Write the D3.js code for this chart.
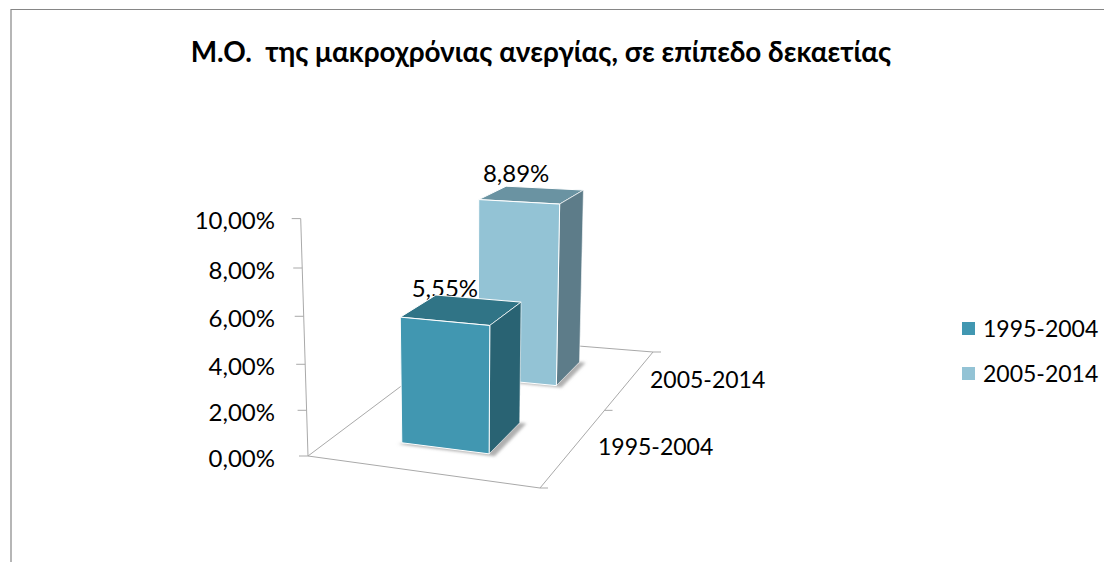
<!DOCTYPE html>
<html>
<head>
<meta charset="utf-8">
<script src="https://cdn.jsdelivr.net/npm/d3@7"></script>
<style>
  html, body { margin: 0; padding: 0; background: #fff; }
  svg { display: block; }
  text { font-family: "Lato", "Noto Sans", sans-serif; fill: #000; }
</style>
</head>
<body>
<script>
const width = 1104;
const height = 562;

const titleText = "Μ.Ο.  της μακροχρόνιας ανεργίας, σε επίπεδο δεκαετίας";
const periods = ["1995-2004", "2005-2014"];
const values = [5.55, 8.89];
const valueLabels = ["5,55%", "8,89%"];
const yTicks = [0, 2, 4, 6, 8, 10];
const yTickLabels = ["0,00%", "2,00%", "4,00%", "6,00%", "8,00%", "10,00%"];

const faceColors = ["#4197b1", "#93c3d5"];
const topColors = ["#307486", "#6a93a2"];
const sideColors = ["#296373", "#5d7c89"];

const svg = d3.select("body").append("svg").attr("width", width).attr("height", height);

const defs = svg.append("defs");
defs.append("filter").attr("id", "soft")
  .attr("x", "-20%").attr("y", "-20%").attr("width", "140%").attr("height", "140%")
  .append("feGaussianBlur").attr("stdDeviation", 1.4);

// frame, only top and left are in the picture
svg.append("path")
  .attr("d", d3.line()([[11, height], [11, 9.5], [width, 9.5]]))
  .attr("fill", "none").attr("stroke", "#868686").attr("stroke-width", 1.2);

svg.append("text")
  .attr("x", 541).attr("y", 62)
  .attr("text-anchor", "middle")
  .attr("font-size", 27.9).attr("font-weight", 700)
  .attr("xml:space", "preserve").style("white-space", "pre")
  .text(titleText);

// floor plane -> screen, homography from the four floor corners
const A = [308, 456], B = [540, 488], C = [653, 352], D = [466.6, 337];
const dx1 = B[0] - C[0], dy1 = B[1] - C[1];
const dx2 = D[0] - C[0], dy2 = D[1] - C[1];
const sx = A[0] - B[0] + C[0] - D[0], sy = A[1] - B[1] + C[1] - D[1];
const det = dx1 * dy2 - dx2 * dy1;
const hg = (sx * dy2 - dx2 * sy) / det;
const hh = (dx1 * sy - sx * dy1) / det;
function floorPoint(u, v) {
  const w = hg * u + hh * v + 1;
  return [
    ((B[0] - A[0] + hg * B[0]) * u + (D[0] - A[0] + hh * D[0]) * v + A[0]) / w,
    ((B[1] - A[1] + hg * B[1]) * u + (D[1] - A[1] + hh * D[1]) * v + A[1]) / w
  ];
}

// value axis is slightly stretched upwards
const yFrac = d3.scaleLinear().domain(yTicks).range([0, 0.1925, 0.3863, 0.5885, 0.7919, 1]);
const sizeAtY = d3.scaleLinear().domain([361, 456]).range([194, 237.4]);
const vanish = [463, 5500];

function project(u, v, val) {
  const p = floorPoint(u, v);
  const h = yFrac(val) * sizeAtY(p[1]);
  return [p[0] + (p[0] - vanish[0]) * h / (vanish[1] - p[1]), p[1] - h];
}

const xBand = d3.scaleBand().domain(["all"]).range([0.005, 1.005]).paddingInner(0.61).paddingOuter(0.305);
const depth = d3.scaleBand().domain(periods).range([0, 1]).paddingInner(0.58).paddingOuter(0.29);

const gridColor = "#a9a9a9";
const grid = svg.append("g").attr("fill", "none").attr("stroke", gridColor).attr("stroke-width", 1);
grid.append("path").attr("d", d3.line()([A, B, C, D]) + "Z");

// depth axis ticks on the right edge
[0, 0.5, 1].forEach(function(v) {
  const p = floorPoint(1, v);
  grid.append("line").attr("x1", p[0]).attr("y1", p[1]).attr("x2", p[0] + 8).attr("y2", p[1]);
});

// value axis
const axisEnds = [project(0, 0, 0), project(0, 0, 10)];
grid.append("line")
  .attr("x1", axisEnds[0][0]).attr("y1", axisEnds[0][1])
  .attr("x2", axisEnds[1][0]).attr("y2", axisEnds[1][1]);
yTicks.forEach(function(t, i) {
  const p = project(0, 0, t);
  grid.append("line").attr("x1", p[0] - 9).attr("y1", p[1]).attr("x2", p[0]).attr("y2", p[1]);
  svg.append("text")
    .attr("x", 275).attr("y", p[1] + 10.5)
    .attr("text-anchor", "end").attr("font-size", 24)
    .text(yTickLabels[i]);
});

// category labels next to the right edge
const catLabelX = [598, 650];
periods.forEach(function(d, i) {
  const p = floorPoint(1, depth(d) + depth.bandwidth() / 2);
  svg.append("text")
    .attr("x", catLabelX[i]).attr("y", p[1] + 9)
    .attr("font-size", 23)
    .text(d);
});

function poly(g, pts, color) {
  return g.append("polygon")
    .attr("points", pts.map(function(p) { return p.join(","); }).join(" "))
    .attr("fill", color);
}

const labelNudge = [[9, 2], [10, -4.5]];

function drawBar(i) {
  const u0 = xBand("all"), u1 = u0 + xBand.bandwidth();
  const v0 = depth(periods[i]), v1 = v0 + depth.bandwidth();
  const val = values[i];
  const g = svg.append("g");

  // soft shadow on the floor
  poly(g, [floorPoint(u0 - 0.01, v0 - 0.01), floorPoint(u1 + 0.03, v0 - 0.01),
           floorPoint(u1 + 0.03, v1), floorPoint(u1, v1)], "#b0b0b0")
    .attr("filter", "url(#soft)");

  const bars = g.append("g").attr("stroke", "#fff").attr("stroke-width", 1).attr("stroke-linejoin", "round");
  poly(bars, [project(u0, v1, val), project(u1, v1, val), project(u1, v0, val), project(u0, v0, val)], topColors[i]);
  poly(bars, [project(u1, v0, val), project(u1, v1, val), project(u1, v1, 0), project(u1, v0, 0)], sideColors[i])
    .attr("stroke-width", 0.6);
  poly(bars, [project(u0, v0, val), project(u1, v0, val), project(u1, v0, 0), project(u0, v0, 0)], faceColors[i]);
}

function drawLabel(i) {
  const p = project(xBand("all"), depth(periods[i]) + depth.bandwidth(), values[i]);
  svg.append("text")
    .attr("x", p[0] + labelNudge[i][0]).attr("y", p[1] + labelNudge[i][1])
    .attr("text-anchor", "middle").attr("font-size", 24)
    .text(valueLabels[i]);
}

// back to front, the front bar covers its own label a little
drawBar(1);
drawLabel(1);
drawLabel(0);
drawBar(0);

// legend
const legendY = d3.scalePoint().domain(periods).range([328.5, 373.5]);
periods.forEach(function(d, i) {
  svg.append("rect")
    .attr("x", 962).attr("y", legendY(d) - 6.5)
    .attr("width", 13).attr("height", 13)
    .attr("fill", faceColors[i]);
  svg.append("text")
    .attr("x", 983).attr("y", legendY(d) + 8.5)
    .attr("font-size", 23)
    .text(d);
});
</script>
</body>
</html>
